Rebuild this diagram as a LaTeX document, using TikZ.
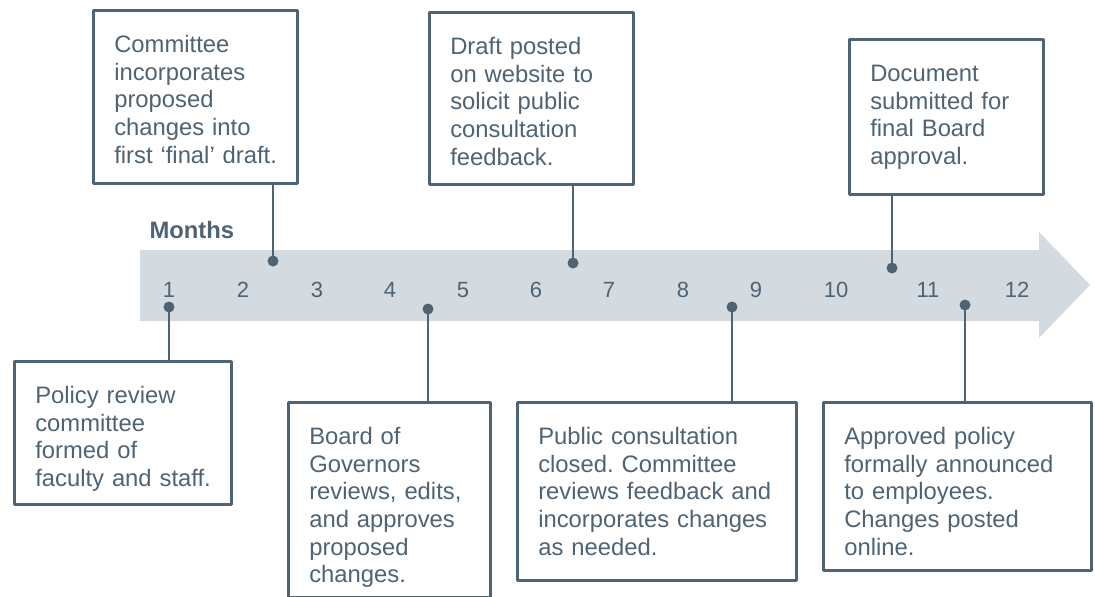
\documentclass[tikz,border=0pt]{standalone}
\usepackage{fontspec}
\setmainfont{Liberation Sans}
\frenchspacing
\definecolor{slate}{HTML}{4E6374}
\definecolor{bandgray}{HTML}{D3DAE0}

\begin{document}
\begin{tikzpicture}[x=1pt,y=-1pt,line join=round,
  evbox/.style={draw=slate,line width=2.6pt,fill=white,anchor=north west,align=left,
    inner xsep=21pt,inner ysep=0pt,text=slate,text height=42pt,
    font=\fontsize{23.8}{27.7}\selectfont},
  dot/.style={circle,fill=slate,inner sep=0pt,minimum size=11pt},
  monthnum/.style={anchor=base,text=slate,font=\fontsize{22}{26}\selectfont},
  tie/.style={draw=slate,line width=2.4pt}]
\useasboundingbox (0,0) rectangle (1095,597);
\fill[bandgray] (140,250) -- (1039,250) -- (1039,232) -- (1090,285) -- (1039,338) -- (1039,321) -- (140,321) -- cycle;
\node[anchor=base west,text=slate,font=\fontsize{23.8}{27.7}\selectfont\bfseries] (months) at (146,238) {Months};
\foreach \m/\x in {1/169,2/243,3/317,4/390,5/463,6/536,7/609,8/683,9/756,10/836,11/928,12/1017}
  \node[monthnum] (m\m) at (\x,297) {\m};
% boxes above the band
\node[evbox,text width=162pt,text depth=131pt] (firstdraft) at (92,9) {Committee\\incorporates\\proposed\\changes into\\\mbox{first ‘final’ draft.}};
\node[evbox,text width=162pt,text depth=130pt] (webdraft) at (428,11) {Draft posted\\on website to\\solicit public\\consultation\\feedback.};
\node[evbox,text width=152pt,text depth=113pt] (finalsub) at (848,38) {Document\\submitted for\\final Board\\approval.};
% boxes below the band
\node[evbox,text width=175pt,text depth=101pt] (formed) at (13,360) {Policy review\\committee\\formed of\\\mbox{faculty and staff.}};
\node[evbox,text width=160pt,text depth=153pt] (boardrev) at (287,401) {Board of\\Governors\\reviews, edits,\\and approves\\proposed\\changes.};
\node[evbox,text width=237pt,text depth=136pt] (closed) at (516,401) {Public consultation\\closed. Committee\\reviews feedback and\\incorporates changes\\as needed.};
\node[evbox,text width=226pt,text depth=126pt] (announced) at (822,401) {Approved policy\\formally announced\\to employees.\\Changes posted\\online.};
% dots on the band
\node[dot] (dformed) at (169,307) {};
\node[dot] (dfirst) at (273,261) {};
\node[dot] (dboard) at (428,309) {};
\node[dot] (dweb) at (573,263) {};
\node[dot] (dclosed) at (732,307) {};
\node[dot] (dfinal) at (892,268) {};
\node[dot] (dannounce) at (965,305) {};
\draw[tie] (dfirst.center) -- (dfirst |- firstdraft.south);
\draw[tie] (dweb.center) -- (dweb |- webdraft.south);
\draw[tie] (dfinal.center) -- (dfinal |- finalsub.south);
\draw[tie] (dformed.center) -- (dformed |- formed.north);
\draw[tie] (dboard.center) -- (dboard |- boardrev.north);
\draw[tie] (dclosed.center) -- (dclosed |- closed.north);
\draw[tie] (dannounce.center) -- (dannounce |- announced.north);
\end{tikzpicture}
\end{document}
